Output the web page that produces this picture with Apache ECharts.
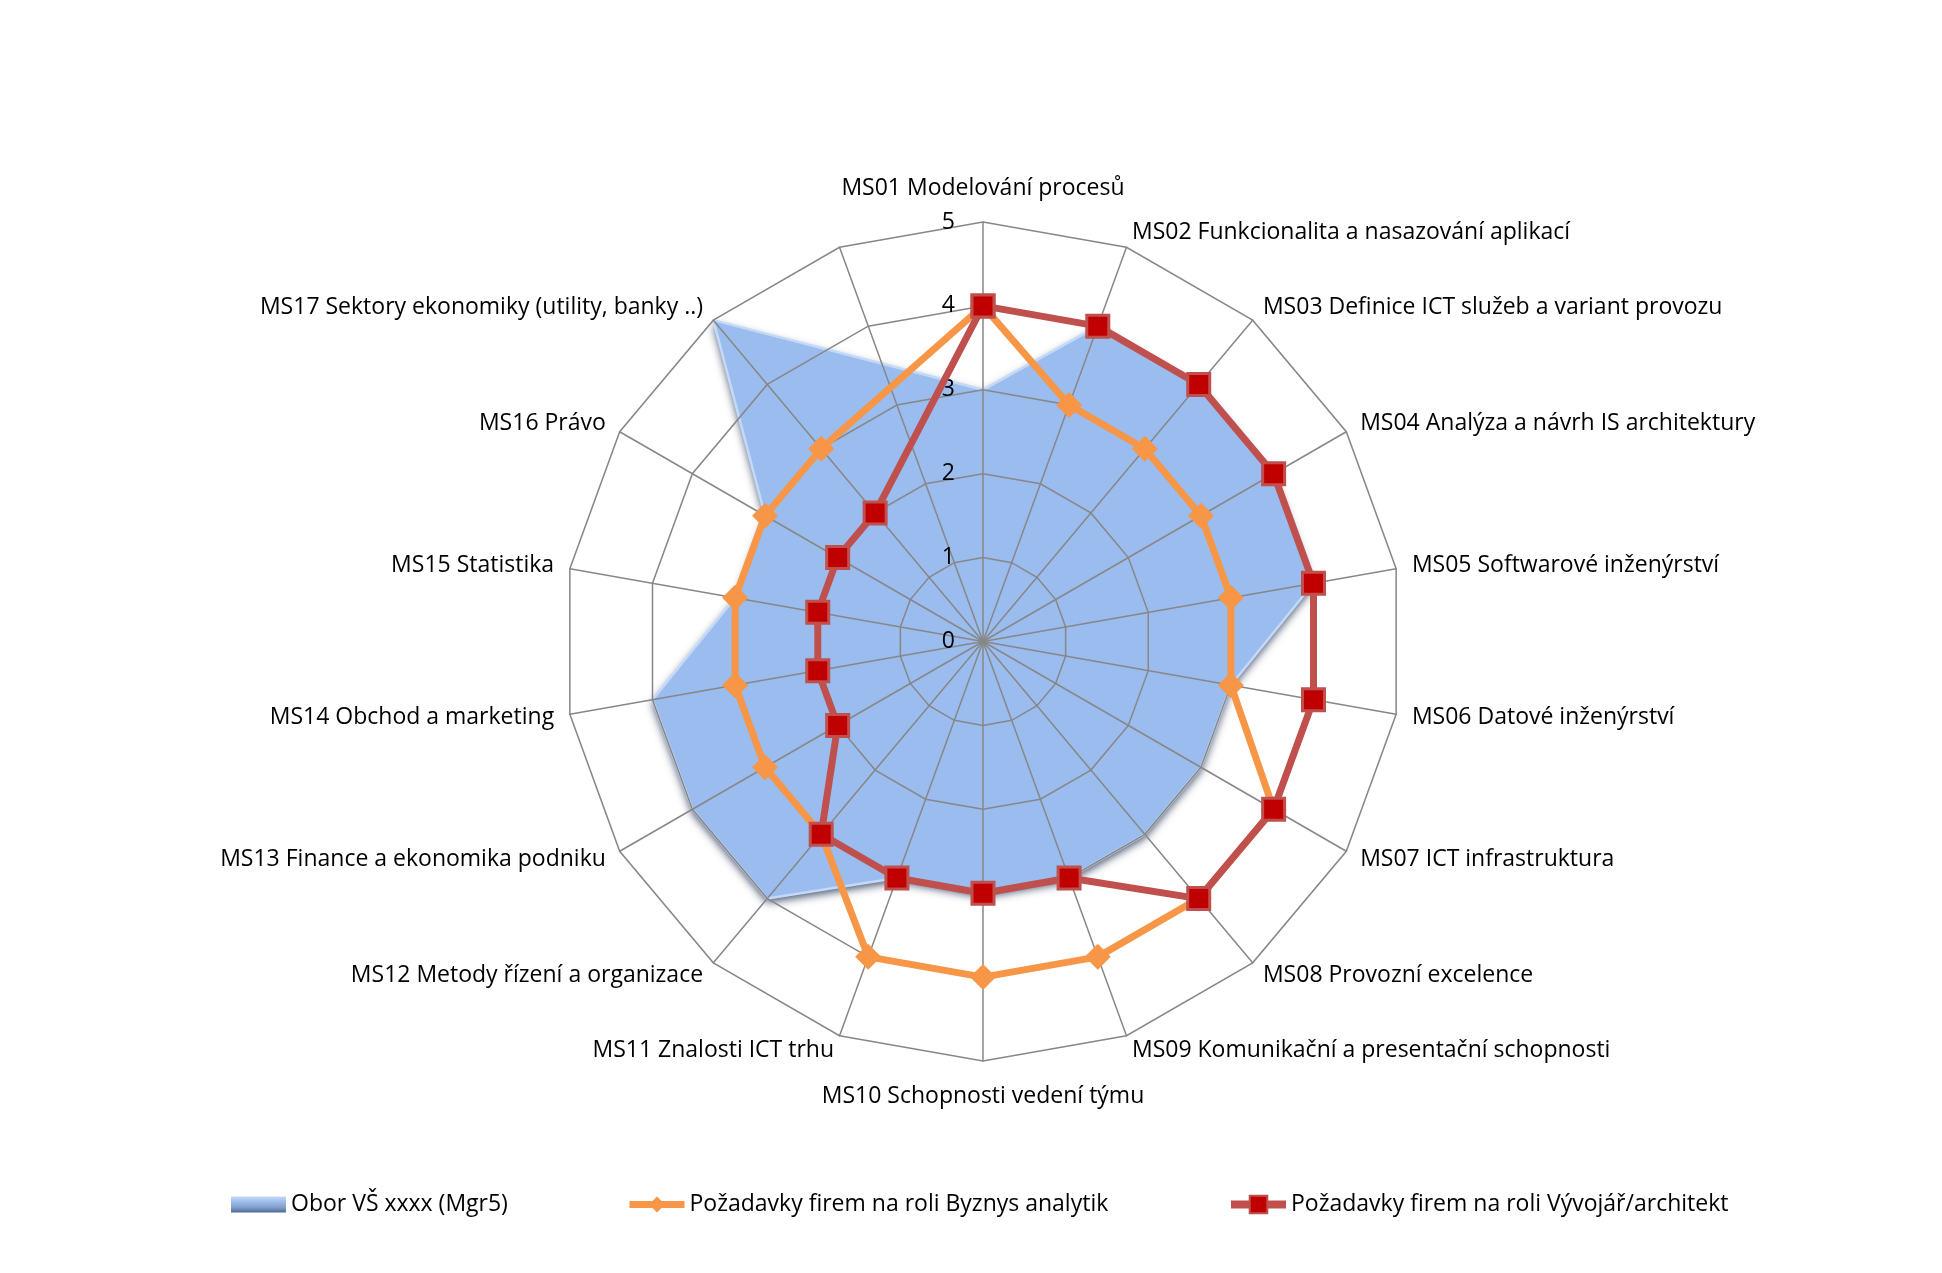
<!DOCTYPE html>
<html>
<head>
<meta charset="utf-8">
<script src="https://cdn.jsdelivr.net/npm/echarts@6/dist/echarts.min.js"></script>
<style>
html,body{margin:0;padding:0;background:#fff;}
#chart{width:1942px;height:1273px;}
</style>
</head>
<body>
<div id="chart"></div>
<script>
const categories = [
  'MS01 Modelování procesů',
  'MS02 Funkcionalita a nasazování aplikací',
  'MS03 Definice ICT služeb a variant provozu',
  'MS04 Analýza a návrh IS architektury',
  'MS05 Softwarové inženýrství',
  'MS06 Datové inženýrství',
  'MS07 ICT infrastruktura',
  'MS08 Provozní excelence',
  'MS09 Komunikační a presentační schopnosti',
  'MS10 Schopnosti vedení týmu',
  'MS11 Znalosti ICT trhu',
  'MS12 Metody řízení a organizace',
  'MS13 Finance a ekonomika podniku',
  'MS14 Obchod a marketing',
  'MS15 Statistika',
  'MS16 Právo',
  'MS17 Sektory ekonomiky (utility, banky ..)'
];
const seriesNames = [
  'Obor VŠ xxxx (Mgr5)',
  'Požadavky firem na roli Byznys analytik',
  'Požadavky firem na roli Vývojář/architekt'
];
const oborValues     = [3,4,4,4,4,3,3,3,3,3,3,4,4,4,3,3,5];
const analytikValues = [4,3,3,3,3,3,4,4,4,4,4,3,3,3,3,3,3];
const vyvojarValues  = [4,4,4,4,4,4,4,4,3,3,3,3,2,2,2,2,2];
const axisMax = 5;

// Excel category axis has one extra, empty category after MS17
const slots = categories.concat(['']);
const step = 360 / slots.length;

// Radar indicators (ECharts radar runs counter-clockwise, so map slots)
const indicator = slots.map(function (_, i) {
  const s = (slots.length - i) % slots.length;
  const ind = { name: slots[s], min: 0, max: axisMax };
  if (s === 0) ind.nameGap = 22;
  if (s === 9) ind.nameGap = 24;
  return ind;
});
indicator[0].axisLabel = { show: true };

function toPolar(vals) {
  const d = vals.map(function (v, k) { return [v, k * step]; });
  d.push([vals[0], 360]);
  return d;
}

const CX = 983, CY = 641.5, R = 419.5;
const FONT = 'Open Sans';
const FS = 23;

const chart = echarts.init(document.getElementById('chart'));
chart.setOption({
  animation: false,
  backgroundColor: '#ffffff',
  textStyle: { fontFamily: FONT },
  radar: {
    z: 2,
    center: [CX, CY],
    radius: R,
    startAngle: 90,
    shape: 'polygon',
    splitNumber: 5,
    indicator: indicator,
    nameGap: 16,
    axisName: { color: '#000', fontSize: FS, fontFamily: FONT },
    axisLine: { lineStyle: { color: '#878787', width: 1.5 } },
    splitLine: { lineStyle: { color: '#878787', width: 1.5 } },
    splitArea: { show: false },
    axisTick: { show: false },
    axisLabel: { show: false, color: '#000', fontSize: FS, fontFamily: FONT, margin: 28 }
  },
  polar: { center: [CX, CY], radius: R },
  angleAxis: { type: 'value', min: 0, max: 360, startAngle: 90, clockwise: true, show: false },
  radiusAxis: { type: 'value', min: 0, max: axisMax, show: false },
  legend: [
    {
      left: 226, top: 1188, itemWidth: 55, itemHeight: 16,
      textStyle: { fontSize: FS, color: '#000', fontFamily: FONT },
      data: [{
        name: seriesNames[0], icon: 'rect',
        itemStyle: {
          color: new echarts.graphic.LinearGradient(0, 0, 0, 1, [
            { offset: 0, color: '#C6DAF7' },
            { offset: 0.35, color: '#9BBBEA' },
            { offset: 0.7, color: '#7F9DCB' },
            { offset: 1, color: '#4E6890' }
          ]),
          borderWidth: 0
        }
      }]
    },
    {
      left: 621, top: 1188, itemWidth: 55, itemHeight: 20,
      textStyle: { fontSize: FS, color: '#000', fontFamily: FONT },
      lineStyle: { width: 7 },
      data: [seriesNames[1]]
    },
    {
      left: 1222, top: 1188, itemWidth: 55, itemHeight: 22,
      textStyle: { fontSize: FS, color: '#000', fontFamily: FONT },
      lineStyle: { width: 8 },
      data: [seriesNames[2]]
    }
  ],
  series: [
    {
      name: seriesNames[0],
      type: 'line',
      coordinateSystem: 'polar',
      z: 1,
      symbol: 'none',
      showSymbol: false,
      data: toPolar(oborValues),
      lineStyle: { color: '#C4D9F7', width: 2.5 },
      itemStyle: { color: '#9BBCEE' },
      areaStyle: {
        color: '#9BBCEE', opacity: 1,
        shadowColor: 'rgba(25,40,75,0.8)', shadowBlur: 8, shadowOffsetX: 0, shadowOffsetY: 4
      },
      emphasis: { disabled: true }
    },
    {
      name: seriesNames[1],
      type: 'line',
      coordinateSystem: 'polar',
      z: 3,
      symbol: 'diamond',
      symbolSize: 26,
      data: toPolar(analytikValues),
      lineStyle: { color: '#F79646', width: 7 },
      itemStyle: { color: '#F79646' },
      emphasis: { disabled: true }
    },
    {
      name: seriesNames[2],
      type: 'line',
      coordinateSystem: 'polar',
      z: 4,
      symbol: 'rect',
      symbolSize: 22,
      data: toPolar(vyvojarValues),
      lineStyle: { color: '#C0504D', width: 7 },
      itemStyle: { color: '#C00000', borderColor: '#C0504D', borderWidth: 3 },
      emphasis: { disabled: true }
    }
  ]
});
</script>
</body>
</html>
